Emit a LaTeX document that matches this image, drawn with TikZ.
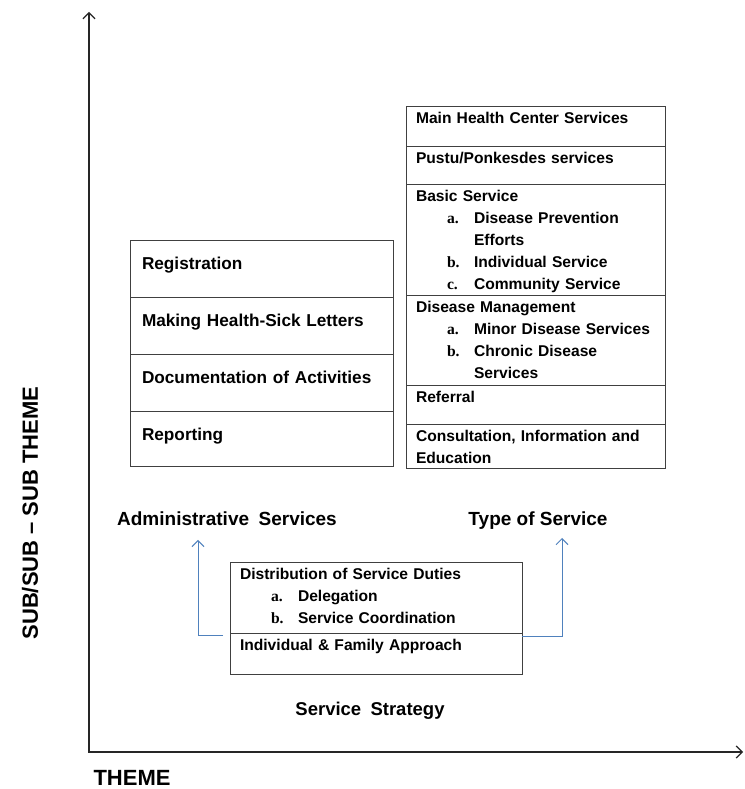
\documentclass[tikz,border=0pt]{standalone}
\usepackage{fontspec}
\setmainfont{Liberation Sans}
\newfontfamily\serfont{Liberation Serif}
\usetikzlibrary{positioning,arrows.meta}
\definecolor{flowblue}{RGB}{79,129,189}
\newcommand{\itm}[1]{\hspace*{31pt}\makebox[27pt][l]{\serfont #1}}
\newcommand{\cnt}{\hspace*{58pt}}

\begin{document}
\begin{tikzpicture}[x=1pt, y=1pt,
        cell/.style={draw=black!75, line width=0.8pt, anchor=north west, outer sep=0pt, inner ysep=0pt, align=left},
        rcell/.style={cell, inner xsep=10pt, text width=239pt, text height=18pt, font=\fontsize{15.6}{22}\selectfont\bfseries},
        lcell/.style={cell, inner xsep=12pt, text width=239pt, text height=30pt, font=\fontsize{17.2}{22}\selectfont\bfseries},
        lbl/.style={inner sep=0pt, font=\fontsize{19}{22}\selectfont\bfseries},
        axis/.style={draw=black!85, line width=1.2pt, {Straight Barb[length=6pt,width=12pt]}-{Straight Barb[length=6pt,width=12pt]}},
        flow/.style={draw=flowblue, line width=1pt, -{Straight Barb[length=6pt,width=12pt]}}]
    \useasboundingbox[fill=white] (0,0) rectangle (744,789);
    \coordinate (ytop) at (89,777);
    \coordinate (xend) at (743,37);
    \draw[axis] (ytop) |- (xend);
    \node[font=\fontsize{22}{24}\selectfont\bfseries, rotate=90] (ytitle) at (30,276) {SUB/SUB – SUB THEME};
    \node[font=\fontsize{22}{24}\selectfont\bfseries] (xtitle) at (132,11) {THEME};

    \node[lcell, text depth=27pt] (regis) at (130,549) {Registration};
    \node[lcell, text depth=27pt, below=0pt of regis] (letter) {Making Health-Sick Letters};
    \node[lcell, text depth=27pt, below=0pt of letter] (docu) {Documentation of Activities};
    \node[lcell, text depth=25pt, below=0pt of docu] (report) {Reporting};

    \node[rcell, text depth=22pt] (main) at (406,683) {Main Health Center Services};
    \node[rcell, text depth=20pt, below=0pt of main] (pustu) {Pustu/Ponkesdes services};
    \node[rcell, text depth=93pt, below=0pt of pustu] (basic) {Basic Service\\ \itm{a.}Disease Prevention\\ \cnt Efforts\\ \itm{b.}Individual Service\\ \itm{c.}Community Service};
    \node[rcell, text depth=72pt, below=0pt of basic] (disease) {Disease Management\\ \itm{a.}Minor Disease Services\\ \itm{b.}Chronic Disease\\ \cnt Services};
    \node[rcell, text depth=21pt, below=0pt of disease] (referral) {Referral};
    \node[rcell, text depth=26pt, below=0pt of referral] (consult) {Consultation, Information and\\Education};

    \node[rcell, text width=272pt, text depth=53pt] (duty) at (230,227) {Distribution of Service Duties\\ \itm{a.}Delegation\\ \itm{b.}Service Coordination};
    \node[rcell, text width=272pt, text depth=23pt, below=0pt of duty] (approach) {Individual \& Family Approach};

    \node[lbl] (admin) at (227,270) {Administrative\enspace Services};
    \node[lbl] (type) at (538,268) {Type of Service};
    \node[lbl, font=\fontsize{18.5}{22}\selectfont\bfseries] (strategy) at (370,78) {Service\enspace Strategy};

    \coordinate (admintip) at (198,249);
    \coordinate (typetip) at (562,251);
    \draw[flow] ([xshift=-7pt,yshift=-3pt]approach.north west) -| (admintip);
    \draw[flow] ([yshift=-4pt]approach.north east) -| (typetip);
\end{tikzpicture}
\end{document}
